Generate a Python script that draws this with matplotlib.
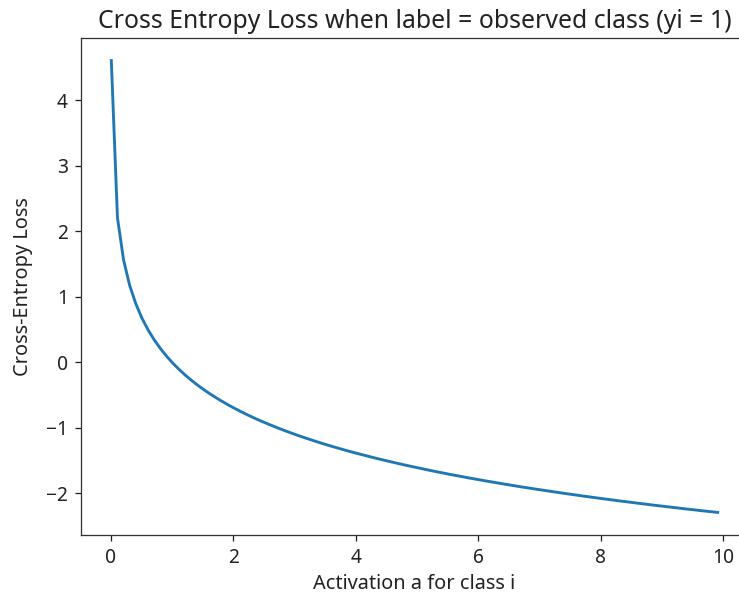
import matplotlib
matplotlib.use("Agg")
import matplotlib.pyplot as plt

plt.rcParams["font.family"] = ["Noto Sans", "DejaVu Sans"]
plt.rcParams["xtick.labelsize"] = 12
plt.rcParams["ytick.labelsize"] = 12
plt.rcParams["axes.labelsize"] = 12.5
plt.rcParams["axes.titlesize"] = 15.5

# activation values for class i
a = [0.01, 0.11, 0.21, 0.31, 0.41, 0.51, 0.61, 0.71, 0.81, 0.91,
     1.01, 1.11, 1.21, 1.31, 1.41, 1.51, 1.61, 1.71, 1.81, 1.91,
     2.01, 2.11, 2.21, 2.31, 2.41, 2.51, 2.61, 2.71, 2.81, 2.91,
     3.01, 3.11, 3.21, 3.31, 3.41, 3.51, 3.61, 3.71, 3.81, 3.91,
     4.01, 4.11, 4.21, 4.31, 4.41, 4.51, 4.61, 4.71, 4.81, 4.91,
     5.01, 5.11, 5.21, 5.31, 5.41, 5.51, 5.61, 5.71, 5.81, 5.91,
     6.01, 6.11, 6.21, 6.31, 6.41, 6.51, 6.61, 6.71, 6.81, 6.91,
     7.01, 7.11, 7.21, 7.31, 7.41, 7.51, 7.61, 7.71, 7.81, 7.91,
     8.01, 8.11, 8.21, 8.31, 8.41, 8.51, 8.61, 8.71, 8.81, 8.91,
     9.01, 9.11, 9.21, 9.31, 9.41, 9.51, 9.61, 9.71, 9.81, 9.91]

# loss when the label is the observed class
loss = [4.605, 2.207, 1.561, 1.171, 0.892, 0.673, 0.494, 0.342, 0.211, 0.094,
        -0.010, -0.104, -0.191, -0.270, -0.344, -0.412, -0.476, -0.536, -0.593, -0.647,
        -0.698, -0.747, -0.793, -0.837, -0.880, -0.920, -0.959, -0.997, -1.033, -1.068,
        -1.102, -1.135, -1.166, -1.197, -1.227, -1.256, -1.284, -1.311, -1.338, -1.364,
        -1.389, -1.413, -1.437, -1.461, -1.484, -1.506, -1.528, -1.550, -1.571, -1.591,
        -1.611, -1.631, -1.651, -1.670, -1.688, -1.707, -1.725, -1.742, -1.760, -1.777,
        -1.793, -1.810, -1.826, -1.842, -1.858, -1.873, -1.889, -1.904, -1.918, -1.933,
        -1.947, -1.961, -1.975, -1.989, -2.003, -2.016, -2.029, -2.043, -2.055, -2.068,
        -2.081, -2.093, -2.105, -2.118, -2.129, -2.141, -2.153, -2.164, -2.176, -2.187,
        -2.198, -2.209, -2.220, -2.231, -2.242, -2.252, -2.263, -2.273, -2.283, -2.293]

fig = plt.figure(figsize=(739 / 115, 593 / 115), dpi=115)
ax = fig.add_axes([81 / 739, 1 - 535 / 593, (748 - 81) / 739, (535 - 38) / 593])
ax.plot(a, loss, linewidth=1.8)
ax.tick_params(length=3.8, pad=4.4, colors="#222222")
ax.set_xlabel("Activation a for class i", color="#222222")
ax.set_ylabel("Cross-Entropy Loss", labelpad=8, color="#222222")
ax.set_title("Cross Entropy Loss when label = observed class (yi = 1)", color="#222222")
for spine in ax.spines.values():
    spine.set_color("#333333")

fig.savefig("out.png", dpi=115)
